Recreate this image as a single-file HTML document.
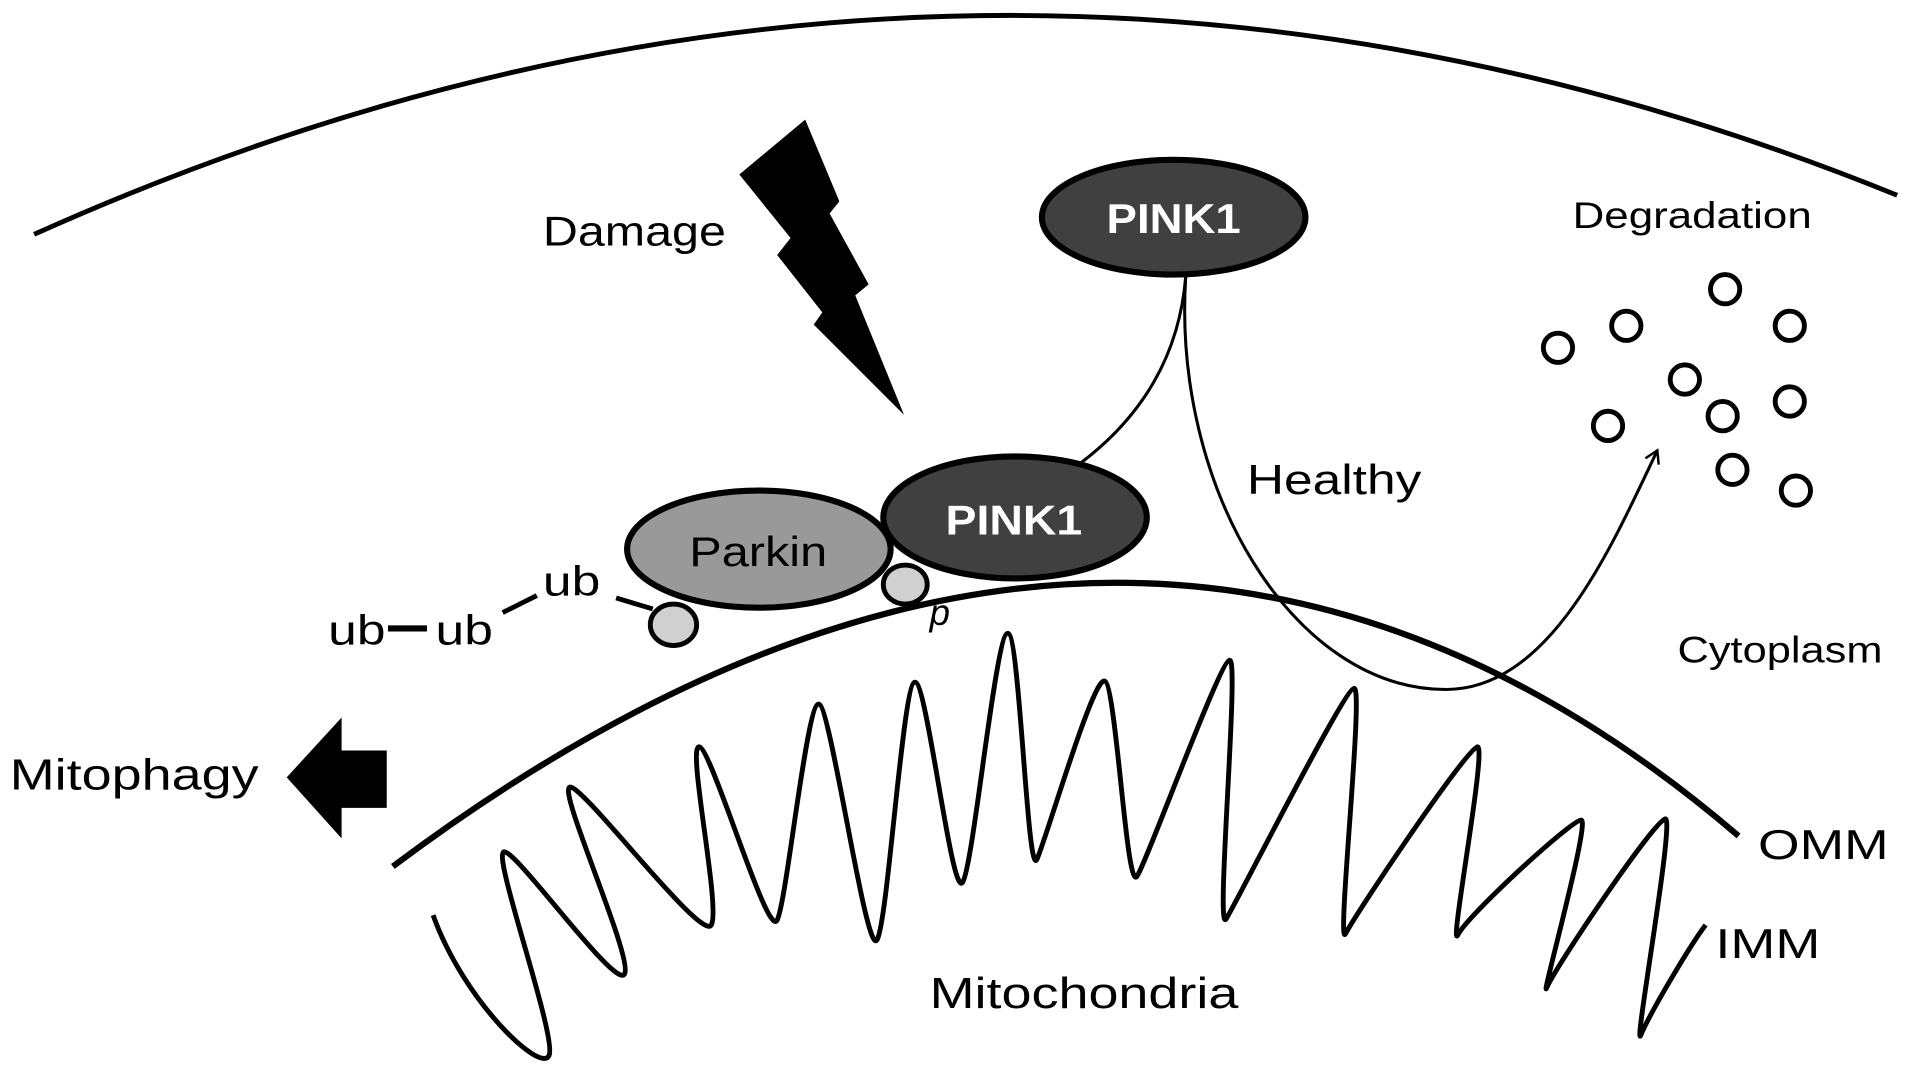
<!DOCTYPE html>
<html><head><meta charset="utf-8"><style>
html,body{margin:0;padding:0;background:#fff;}
svg{display:block;}
text{font-family:"Liberation Sans",sans-serif;}
</style></head><body>
<svg width="1913" height="1069" viewBox="0 0 1568 876" preserveAspectRatio="none" xmlns="http://www.w3.org/2000/svg">
<defs>
<marker id="ar" markerWidth="14" markerHeight="14" refX="10" refY="7" orient="auto" markerUnits="userSpaceOnUse">
<path d="M1,1 L11,7 L1,13" fill="none" stroke="#000" stroke-width="2"/>
</marker>
</defs>
<path d="M28,192 Q790,-150 1555,160" fill="none" stroke="#000" stroke-width="4"/>
<path d="M322,710 Q926,258 1425,685" fill="none" stroke="#000" stroke-width="5"/>
<path fill="none" stroke="#000" stroke-width="4" stroke-linejoin="round" d="M355,750
C380,820 443,880 450,865 C457,850 403,700 413,698
C423,696 505,812 512,798 C519,784 457,648 467,645
C477,642 575,772 583,758 C591,744 563,612 573,612
C583,612 629,770 637,754 C645,738 661,577 671,577
C681,577 710,787 719,770 C728,753 740,559 750,559
C760,559 780,737 789,723 C798,709 816,519 826,519
C836,519 842,722 850,704 C858,686 895,558 905,558
C915,558 923,732 932,718 C941,704 1000,541 1008,541
C1016,541 996,767 1005,753 C1014,739 1102,564 1110,564
C1118,564 1095,781 1103,765 C1111,749 1203,612 1211,612
C1219,612 1187,782 1195,766 C1203,750 1288,672 1296,672
C1304,672 1261,826 1268,809 C1275,792 1357,671 1365,671
C1373,671 1338,865 1345,848 C1352,831 1385,775 1398,758"/>
<polygon points="660,98 688,165 680,175 712,233 701,242 741,340 667,266 674,256 637,209 648,195 606,143" fill="#000"/>
<path d="M972,225 Q965,320 885,380" fill="none" stroke="#000" stroke-width="2.5"/>
<path d="M972,225 C960,400 1060,565 1185,565 C1270,565 1320,450 1358,370" fill="none" stroke="#000" stroke-width="2.5" marker-end="url(#ar)"/>
<ellipse cx="962" cy="178" rx="108" ry="47" fill="#404040" stroke="#000" stroke-width="5"/>
<text x="907" y="191" font-size="34" font-weight="bold" fill="#fff" textLength="110" lengthAdjust="spacingAndGlyphs">PINK1</text>
<ellipse cx="552" cy="512" rx="19" ry="17" fill="#d0d0d0" stroke="#000" stroke-width="4"/>
<ellipse cx="742" cy="479" rx="18" ry="16" fill="#d0d0d0" stroke="#000" stroke-width="4"/>
<ellipse cx="622" cy="450" rx="108" ry="48" fill="#999" stroke="#000" stroke-width="5"/>
<text x="565" y="464" font-size="34" fill="#000" textLength="113" lengthAdjust="spacingAndGlyphs">Parkin</text>
<ellipse cx="832" cy="424" rx="108" ry="50" fill="#404040" stroke="#000" stroke-width="5"/>
<text x="775" y="438" font-size="34" font-weight="bold" fill="#fff" textLength="112" lengthAdjust="spacingAndGlyphs">PINK1</text>
<line x1="505" y1="490" x2="535" y2="499" stroke="#000" stroke-width="4"/>
<line x1="412" y1="502" x2="440" y2="488" stroke="#000" stroke-width="4"/>
<line x1="318" y1="515" x2="350" y2="515" stroke="#000" stroke-width="5"/>
<text x="445" y="488" font-size="34" textLength="47" lengthAdjust="spacingAndGlyphs">ub</text>
<text x="357" y="528" font-size="34" textLength="47" lengthAdjust="spacingAndGlyphs">ub</text>
<text x="269" y="528" font-size="34" textLength="47" lengthAdjust="spacingAndGlyphs">ub</text>
<text x="762" y="512" font-size="30" font-style="italic">p</text>
<text x="445" y="201" font-size="34" textLength="150" lengthAdjust="spacingAndGlyphs">Damage</text>
<text x="1022" y="405" font-size="34" textLength="143" lengthAdjust="spacingAndGlyphs">Healthy</text>
<text x="1289" y="187" font-size="30" textLength="196" lengthAdjust="spacingAndGlyphs">Degradation</text>
<text x="1375" y="543" font-size="30" textLength="168" lengthAdjust="spacingAndGlyphs">Cytoplasm</text>
<text x="1441" y="704" font-size="34" textLength="107" lengthAdjust="spacingAndGlyphs">OMM</text>
<text x="1406" y="785" font-size="34" textLength="86" lengthAdjust="spacingAndGlyphs">IMM</text>
<text x="762" y="826" font-size="36" textLength="253" lengthAdjust="spacingAndGlyphs">Mitochondria</text>
<text x="8" y="647" font-size="36" textLength="204" lengthAdjust="spacingAndGlyphs">Mitophagy</text>
<g fill="none" stroke="#000" stroke-width="4">
<circle cx="1277" cy="285" r="12"/><circle cx="1333" cy="267" r="12"/>
<circle cx="1414" cy="237" r="12"/><circle cx="1467" cy="267" r="12"/>
<circle cx="1381" cy="311" r="12"/><circle cx="1467" cy="329" r="12"/>
<circle cx="1412" cy="341" r="12"/><circle cx="1318" cy="349" r="12"/>
<circle cx="1420" cy="385" r="12"/><circle cx="1472" cy="402" r="12"/>
</g>
<polygon points="235,637 280,588 280,615 317,615 317,662 280,662 280,687" fill="#000"/>
</svg>
</body></html>
